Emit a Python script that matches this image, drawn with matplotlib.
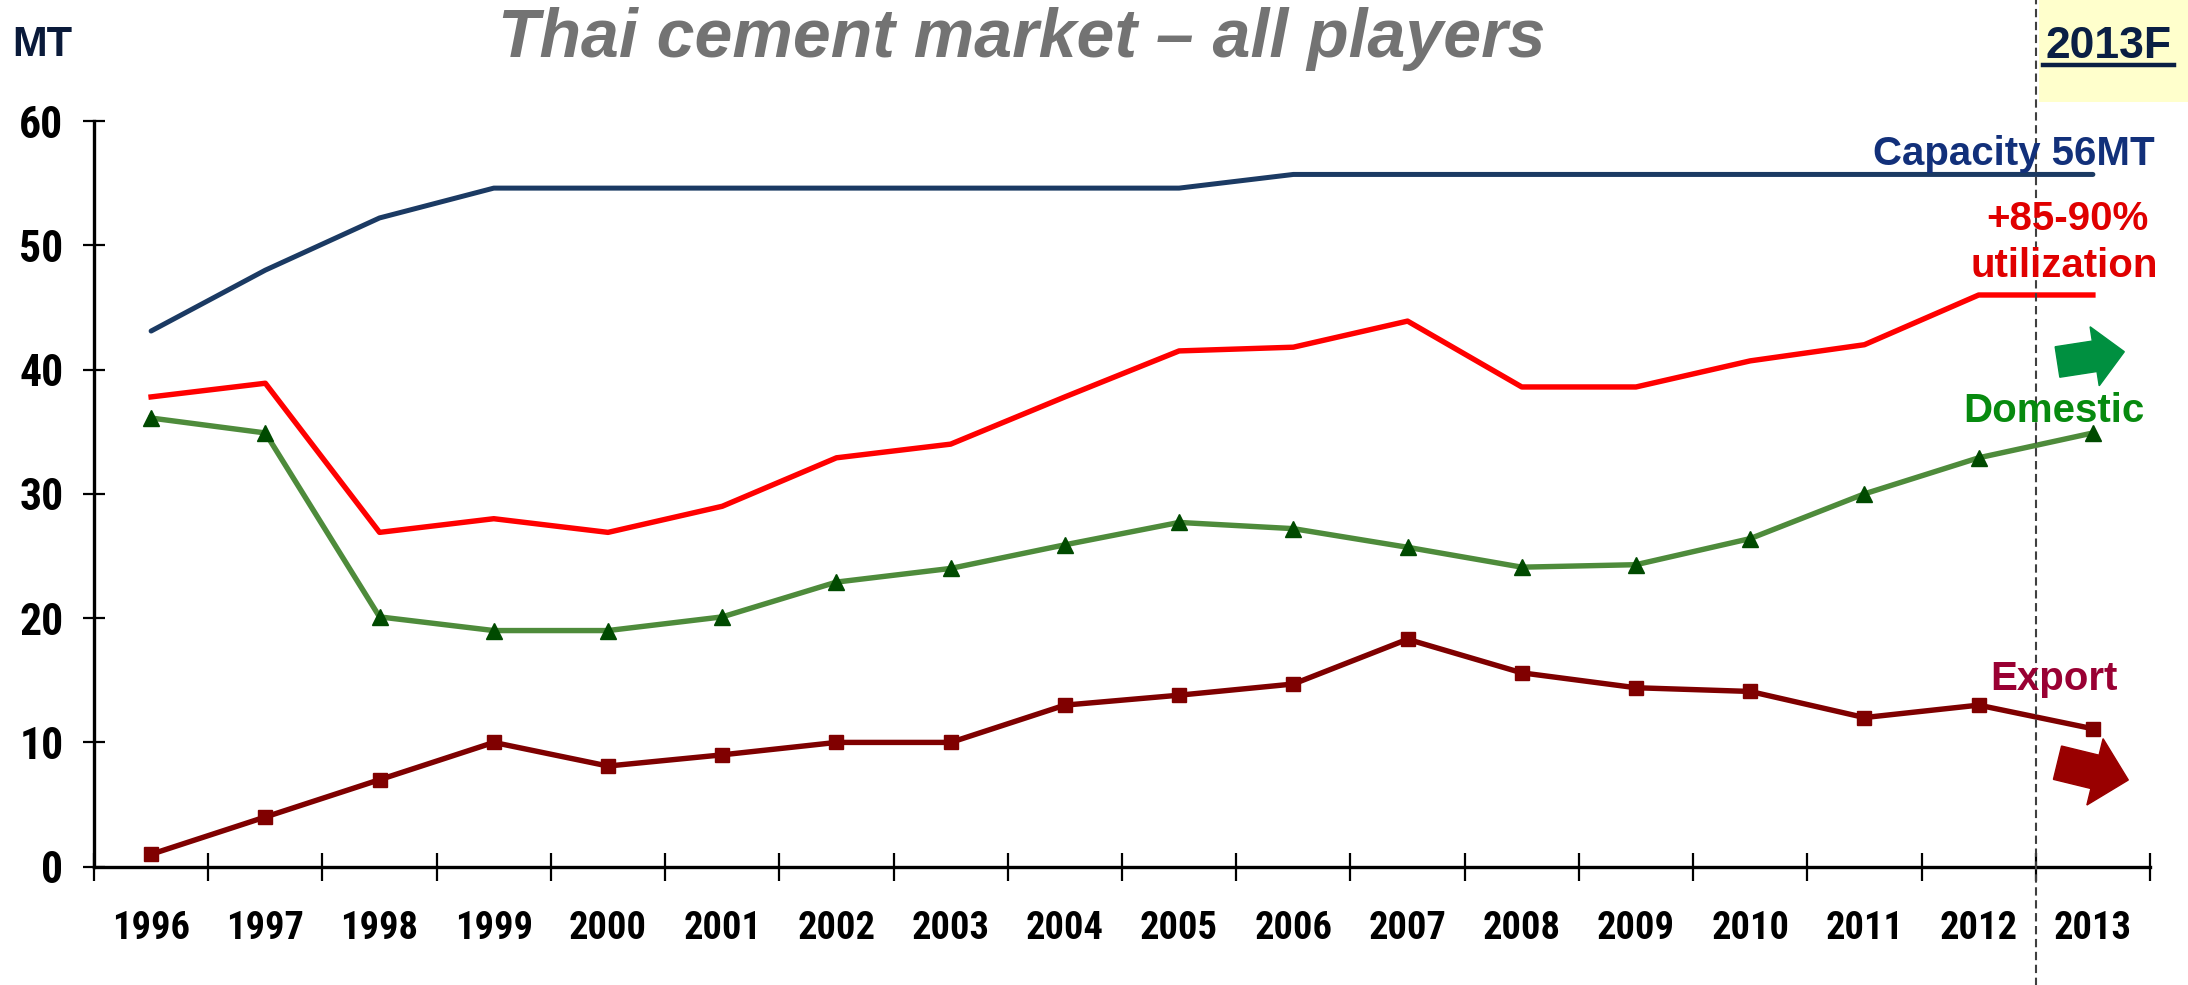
import os
import matplotlib
matplotlib.use("Agg")
import matplotlib.pyplot as plt
from matplotlib import font_manager as fm
from matplotlib.patches import Rectangle, FancyArrow
from matplotlib.transforms import Affine2D
from matplotlib.lines import Line2D
from matplotlib.textpath import TextPath

years = ["1996", "1997", "1998", "1999", "2000", "2001", "2002", "2003", "2004",
         "2005", "2006", "2007", "2008", "2009", "2010", "2011", "2012", "2013"]
capacity = [43.1, 48.0, 52.2, 54.6, 54.6, 54.6, 54.6, 54.6, 54.6,
            54.6, 55.7, 55.7, 55.7, 55.7, 55.7, 55.7, 55.7, 55.7]
production = [37.8, 38.9, 26.9, 28.0, 26.9, 29.0, 32.9, 34.0, 37.8,
              41.5, 41.8, 43.9, 38.6, 38.6, 40.7, 42.0, 46.0, 46.0]
domestic = [36.1, 34.9, 20.1, 19.0, 19.0, 20.1, 22.9, 24.0, 25.9,
            27.7, 27.2, 25.7, 24.1, 24.3, 26.4, 30.0, 32.9, 34.9]
export = [1.0, 4.0, 7.0, 10.0, 8.1, 9.0, 10.0, 10.0, 13.0,
          13.8, 14.7, 18.3, 15.6, 14.4, 14.1, 12.0, 13.0, 11.1]
yticks = [0, 10, 20, 30, 40, 50, 60]

W, H = 2188, 985
DPI = 100


def pick_narrow_bold():
    prefs = ["liberationsansnarrow-bold.", "arialnarrowbold", "arialnarrow-bold", "arialnb",
             "robotocondensed-bold.", "notosans-condensedbold.", "opensans-condensedbold.",
             "opensans_condensed-bold.", "dejavusanscondensed-bold."]
    files = [f.fname for f in fm.fontManager.ttflist]
    for p in prefs:
        for fn in files:
            if p in os.path.basename(fn).lower().replace(" ", ""):
                return fn
    for f in fm.fontManager.ttflist:
        n = (f.name + os.path.basename(f.fname)).lower()
        if ("condensed" in n or "narrow" in n) and "bold" in n and "italic" not in n \
                and "oblique" not in n and "extra" not in n and "semi" not in n:
            return f.fname
    return None


NARROW_FILE = pick_narrow_bold()


def narrow_prop(sample, ink_w, ink_h):
    """Font properties for condensed bold digits sized to the given ink box (px)."""
    if NARROW_FILE:
        fp = fm.FontProperties(fname=NARROW_FILE, size=100)
    else:
        fp = fm.FontProperties(family=["Liberation Sans", "DejaVu Sans"], weight="bold", size=100)
    ext = TextPath((0, 0), sample, prop=fp).get_extents()
    sw = 100 * (ink_w * 72 / DPI) / ext.width
    sh = 100 * (ink_h * 72 / DPI) / ext.height
    fp = fp.copy()
    fp.set_size((sw * sh) ** 0.5)
    return fp


fig = plt.figure(figsize=(W / DPI, H / DPI), dpi=DPI)
fig.patch.set_facecolor("white")

# pixel (y down) -> figure transform
px = Affine2D().scale(1.0 / W, -1.0 / H).translate(0, 1) + fig.transFigure

left, right, top, bottom = 94, 2150, 121, 866.7
ax = fig.add_axes([left / W, (H - bottom) / H, (right - left) / W, (bottom - top) / H])

sans = ["Liberation Sans", "DejaVu Sans"]

x = list(range(len(years)))
ax.plot(x, capacity, color="#1B3A63", lw=3.6, solid_capstyle="round", zorder=3)
ax.plot(x, production, color="#FF0000", lw=3.9, zorder=3)
ax.plot(x, domestic, color="#4E8B3B", lw=3.9, marker="^", markersize=12,
        markerfacecolor="#004A00", markeredgecolor="#004A00", zorder=4)
ax.plot(x, export, color="#7F0000", lw=3.9, marker="s", markersize=10.5,
        markerfacecolor="#800000", markeredgecolor="#800000", zorder=4)

ax.set_xlim(-0.5, len(years) - 0.5)
ax.set_ylim(0, 60)
for s in ["top", "right"]:
    ax.spines[s].set_visible(False)
for s in ["left", "bottom"]:
    ax.spines[s].set_linewidth(2.4)
    ax.spines[s].set_color("black")

yfp = narrow_prop("60", 40, 32)
ax.set_yticks(yticks)
ax.set_yticklabels([str(v) for v in yticks])
for lab in ax.get_yticklabels():
    lab.set_fontproperties(yfp)
ax.tick_params(axis="y", direction="inout", length=16, width=1.6, pad=14)

xfp = narrow_prop("1996", 69, 30)
ax.set_xticks(x)
ax.set_xticklabels(years)
for lab in ax.get_xticklabels():
    lab.set_fontproperties(xfp)
ax.tick_params(axis="x", which="major", length=0, pad=31)
ax.set_xticks([i - 0.5 for i in range(len(years) + 1)], minor=True)
ax.tick_params(axis="x", which="minor", direction="inout", length=20, width=1.6)

# 2013F box
fig.patches.append(Rectangle((2039, 0), W - 2039, 102, transform=px,
                             facecolor="#FFFFCC", edgecolor="none", zorder=0))
fig.text(2109 / W, 1 - 58 / H, "2013F", ha="center", va="baseline", fontsize=32,
         fontweight="bold", family=sans, color="#0A1F44")
fig.lines.append(Line2D([2043, 2174], [65, 65], transform=px, color="#0A1F44", lw=3.2))

# forecast divider
ax.axvline(len(years) - 1.5, ymin=-0.16, ymax=1.165, clip_on=False, color="#404040",
           lw=1.5, dashes=(4, 2.2), zorder=5)

# title and unit
fig.text(1022 / W, 1 - 57 / H, "Thai cement market \u2013 all players", ha="center", va="baseline",
         fontsize=49, fontweight="bold", style="italic", family=sans, color="#737373")
fig.text(12 / W, 1 - 56 / H, "MT", ha="left", va="baseline", fontsize=30,
         fontweight="bold", family=sans, color="#0A1A3A")

# series labels
fig.text(2155 / W, 1 - 165 / H, "Capacity 56MT", ha="right", va="baseline", fontsize=29,
         fontweight="bold", family=sans, color="#12307A")
fig.text(2067 / W, 1 - 230 / H, "+85-90%", ha="center", va="baseline", fontsize=29,
         fontweight="bold", family=sans, color="#E00000")
fig.text(2064 / W, 1 - 277 / H, "utilization", ha="center", va="baseline", fontsize=29,
         fontweight="bold", family=sans, color="#E00000")
fig.text(2054 / W, 1 - 421.7 / H, "Domestic", ha="center", va="baseline", fontsize=29,
         fontweight="bold", family=sans, color="#078A0F")
fig.text(2054 / W, 1 - 690 / H, "Export", ha="center", va="baseline", fontsize=29,
         fontweight="bold", family=sans, color="#990033")

# trend arrows
fig.patches.append(FancyArrow(2057.5, 362, 66.8, -10.3, width=30.8, head_width=59.7,
                              head_length=30, length_includes_head=True, transform=px,
                              color="#009040", zorder=6))
fig.patches.append(FancyArrow(2057.5, 762.7, 70.8, 17.3, width=34.3, head_width=68.3,
                              head_length=34.3, length_includes_head=True, transform=px,
                              color="#990000", zorder=6))

fig.savefig("out.png", dpi=DPI, facecolor="white")
